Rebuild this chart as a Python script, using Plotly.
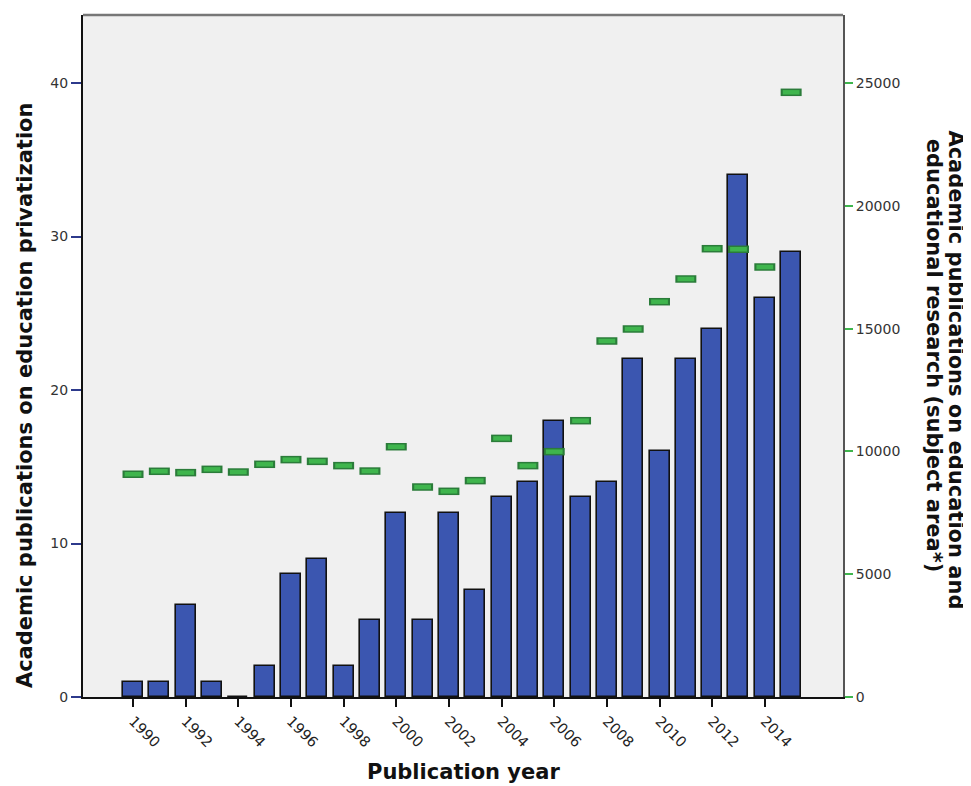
import plotly.graph_objects as go

years = list(range(1990, 2016))
privatization_pubs = [1, 1, 6, 1, 0, 2, 8, 9, 2, 5, 12, 5, 12, 7, 13, 14, 18, 13, 14, 22, 16, 22, 24, 34, 26, 29]
education_pubs = [9070, 9190, 9135, 9270, 9160, 9475, 9665, 9595, 9420, 9200, 10190, 8550, 8375, 8810,
                  10530, 9420, 9990, 11250, 14495, 14984, 16095, 17020, 18253, 18230, 17508, 24621]
x_ticks = list(range(1990, 2015, 2))
left_ticks = [0, 10, 20, 30, 40]
right_ticks = [0, 5000, 10000, 15000, 20000, 25000]
right_title_lines = ["Academic publications on education and", "educational research (subject area*)"]

left_max = 44.43
right_max = left_max * 625

fig = go.Figure()
fig.add_trace(go.Bar(
    x=years, y=privatization_pubs, width=0.76,
    marker=dict(color="#3b56b0", line=dict(color="#111111", width=1.6)),
    yaxis="y", showlegend=False,
))
fig.add_trace(go.Scatter(
    x=years, y=education_pubs, mode="markers", yaxis="y2", showlegend=False,
    marker=dict(symbol="line-ew", size=15, line=dict(color="#2b7c3a", width=7.5)),
))
fig.add_trace(go.Scatter(
    x=years, y=education_pubs, mode="markers", yaxis="y2", showlegend=False,
    marker=dict(symbol="line-ew", size=12, line=dict(color="#3fb54d", width=4.5)),
))

tick_font = dict(family="DejaVu Sans", size=14, color="#333333")
title_font = dict(family="DejaVu Sans", size=21, color="#111111", weight="bold")
right_title_font = dict(family="DejaVu Sans", size=21, color="#111111", weight="bold")

fig.update_layout(
    width=963, height=778,
    margin=dict(l=75, r=128, t=7, b=89),
    paper_bgcolor="white", plot_bgcolor="#f0f0f0",
    bargap=0,
    xaxis=dict(
        range=[1988.1, 2016.97], tickvals=x_ticks, ticktext=[str(v) for v in x_ticks],
        tickangle=45, ticks="outside", ticklen=8, tickwidth=1.5, tickcolor="#111111",
        tickfont=dict(family="DejaVu Sans", size=14.5, color="#222222"),
        showgrid=False, zeroline=False, showline=True, linecolor="#111111", linewidth=2,
    ),
    yaxis=dict(
        range=[0, left_max], tickvals=left_ticks, ticks="outside", ticklen=10, tickwidth=1.5,
        tickcolor="#2d3a8c", tickfont=tick_font,
        showgrid=False, zeroline=False, showline=True, linecolor="#111111", linewidth=2,
    ),
    yaxis2=dict(
        range=[0, right_max], tickvals=right_ticks, tickformat="d", overlaying="y", side="right",
        ticks="outside", ticklen=8, tickwidth=1.5, tickcolor="#3fb54d", tickfont=tick_font,
        showgrid=False, zeroline=False, showline=True, linecolor="#555555", linewidth=2,
    ),
    shapes=[dict(type="line", xref="paper", yref="paper", x0=0, x1=1, y0=1, y1=1,
                 line=dict(color="#777777", width=2.5))],
    annotations=[
        dict(text="Publication year", xref="paper", yref="paper", x=0.5, y=-0.110,
             showarrow=False, font=title_font, xanchor="center", yanchor="middle"),
        dict(text="Academic publications on education privatization", xref="paper", yref="paper",
             x=-0.076, y=0.443, textangle=-90, showarrow=False, font=title_font,
             xanchor="center", yanchor="middle"),
        dict(text=right_title_lines[0], xref="paper", yref="paper",
             x=1.149, y=0.48, textangle=90, showarrow=False, font=right_title_font,
             xanchor="center", yanchor="middle"),
        dict(text=right_title_lines[1], xref="paper", yref="paper",
             x=1.12, y=0.50, textangle=90, showarrow=False, font=right_title_font,
             xanchor="center", yanchor="middle"),
    ],
)

fig.write_html("out.html")
